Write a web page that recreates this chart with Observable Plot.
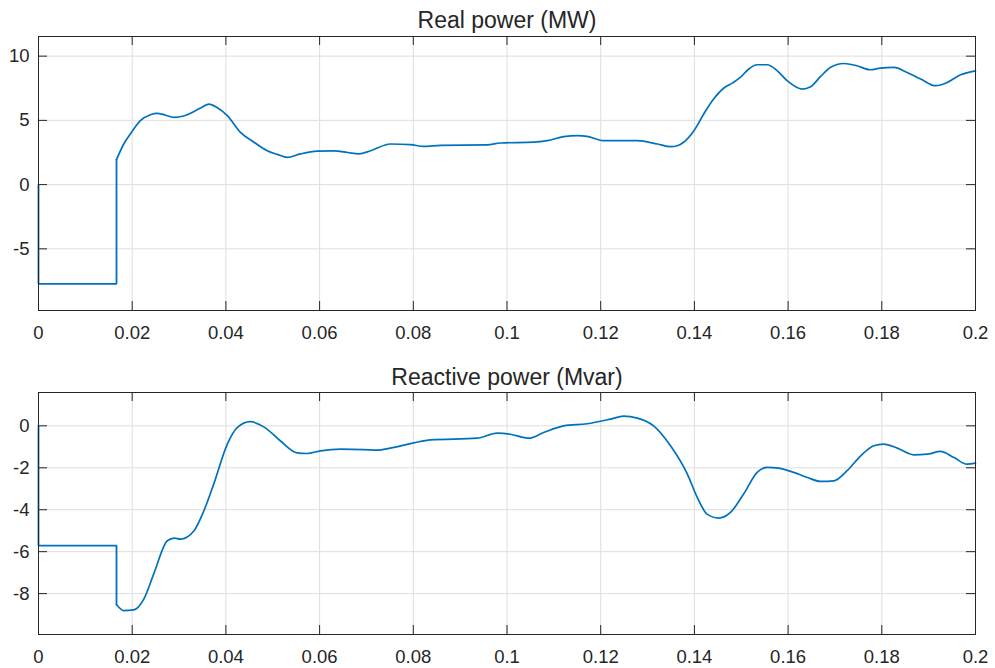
<!DOCTYPE html>
<html>
<head>
<meta charset="utf-8">
<script src="https://cdn.jsdelivr.net/npm/d3@7"></script>
<script src="https://cdn.jsdelivr.net/npm/@observablehq/plot@0.6"></script>
<style>
  html, body { margin: 0; padding: 0; background: #fff; }
  #chart svg { display: block; }
</style>
</head>
<body>
<div id="chart"></div>
<script>
// ---- data ----
const realTitle = "Real power (MW)";
const reactiveTitle = "Reactive power (Mvar)";

const timeTicks = [0, 0.02, 0.04, 0.06, 0.08, 0.1, 0.12, 0.14, 0.16, 0.18, 0.2];
const timeTickLabels = ["0", "0.02", "0.04", "0.06", "0.08", "0.1", "0.12", "0.14", "0.16", "0.18", "0.2"];
const realTicks = [-5, 0, 5, 10];
const reactiveTicks = [-8, -6, -4, -2, 0];

// the first four samples are the initial step (t = 0 and the switching instant)
const realTime = [0, 0, 0.01665, 0.01665, 0.0182, 0.0196, 0.0218, 0.0239, 0.0253, 0.027, 0.0289, 0.031, 0.0332, 0.035, 0.0364, 0.0381, 0.0403, 0.0431, 0.046, 0.0488, 0.051, 0.0531, 0.0559, 0.0595, 0.063, 0.066, 0.0684, 0.0709, 0.0751, 0.0794, 0.0822, 0.0858, 0.0958, 0.0986, 0.1057, 0.1086, 0.1121, 0.115, 0.1171, 0.1207, 0.1278, 0.1321, 0.1349, 0.1365, 0.1377, 0.1399, 0.142, 0.1441, 0.1463, 0.1481, 0.1498, 0.1516, 0.1534, 0.1555, 0.1577, 0.1598, 0.163, 0.1648, 0.1669, 0.169, 0.1719, 0.1747, 0.1776, 0.1797, 0.1826, 0.1854, 0.1883, 0.1915, 0.194, 0.1968, 0.2];
const realValue = [0, -7.72, -7.72, 1.94, 3.16, 3.94, 5.0, 5.44, 5.55, 5.42, 5.23, 5.34, 5.7, 6.05, 6.27, 6.0, 5.37, 4.07, 3.3, 2.64, 2.35, 2.12, 2.39, 2.6, 2.62, 2.5, 2.39, 2.64, 3.16, 3.11, 2.98, 3.06, 3.09, 3.24, 3.3, 3.42, 3.73, 3.81, 3.76, 3.42, 3.42, 3.16, 2.95, 3.05, 3.3, 4.2, 5.5, 6.66, 7.52, 7.9, 8.34, 9.0, 9.33, 9.33, 8.86, 8.09, 7.44, 7.62, 8.4, 9.12, 9.43, 9.25, 8.94, 9.07, 9.12, 8.73, 8.22, 7.7, 7.96, 8.55, 8.86];

const reactiveTime = [0, 0, 0.01665, 0.01665, 0.0182, 0.0203, 0.0225, 0.0246, 0.0275, 0.029, 0.0303, 0.0332, 0.0353, 0.0374, 0.0403, 0.0424, 0.0452, 0.0481, 0.0516, 0.0552, 0.0573, 0.0602, 0.0645, 0.0694, 0.0723, 0.0751, 0.0801, 0.0837, 0.0936, 0.0979, 0.1007, 0.1047, 0.1078, 0.1121, 0.1171, 0.1221, 0.1249, 0.1278, 0.1313, 0.1349, 0.1385, 0.1406, 0.1427, 0.1452, 0.1477, 0.1505, 0.1534, 0.1555, 0.158, 0.1612, 0.1641, 0.1669, 0.1698, 0.1726, 0.1755, 0.1783, 0.1804, 0.1833, 0.1868, 0.1897, 0.1925, 0.1954, 0.1982, 0.2];
const reactiveValue = [0, -5.71, -5.71, -8.52, -8.81, -8.78, -8.25, -7.06, -5.48, -5.35, -5.4, -5.0, -4.05, -2.78, -0.87, -0.08, 0.2, -0.05, -0.71, -1.29, -1.32, -1.19, -1.11, -1.13, -1.16, -1.06, -0.81, -0.67, -0.59, -0.35, -0.4, -0.59, -0.32, 0.0, 0.1, 0.32, 0.46, 0.37, 0.0, -0.95, -2.3, -3.41, -4.21, -4.4, -4.13, -3.25, -2.22, -1.98, -2.02, -2.22, -2.46, -2.65, -2.62, -2.14, -1.43, -0.95, -0.87, -1.06, -1.38, -1.35, -1.22, -1.51, -1.83, -1.78];

// ---- styling ----
const FONT = "'Liberation Sans', Arial, Helvetica, sans-serif";
const INK = "#262626";
const LINE = "#0072BD";
const GRID = "#dedede";
const TICK_LEN = 9;
const W = 995;
const ML = 38, MR = 20;
const STEP_END = 4; // samples belonging to the step segment (drawn straight)

function panel({title, time, value, yDomain, yTicks, height, marginTop, marginBottom, titleDy}) {
  const rows = time.map((t, i) => ({t, v: value[i]}));
  const stepRows = rows.slice(0, STEP_END);
  const smoothRows = rows.slice(STEP_END - 1);
  const frameW = W - ML - MR;
  const frameH = height - marginTop - marginBottom;
  const labelOf = t => timeTickLabels[timeTicks.indexOf(t)];
  return Plot.plot({
    width: W,
    height,
    marginLeft: ML,
    marginRight: MR,
    marginTop,
    marginBottom,
    style: {fontFamily: FONT, fontSize: "18.5px", color: INK, background: "#fff", overflow: "visible"},
    x: {domain: [0, 0.2], ticks: timeTicks, tickFormat: labelOf, label: null},
    y: {domain: yDomain, ticks: yTicks, tickFormat: d => String(d), label: null},
    marks: [
      Plot.ruleX(timeTicks, {stroke: GRID, strokeWidth: 1}),
      Plot.ruleY(yTicks, {stroke: GRID, strokeWidth: 1}),
      Plot.axisX(timeTicks, {tickSize: 0, tickPadding: 15, tickFormat: labelOf, fill: INK, fontSize: 18.5}),
      Plot.axisY(yTicks, {tickSize: 0, tickPadding: 9, tickFormat: d => String(d), fill: INK, fontSize: 18.5}),
      // inward tick marks on all four sides (box on)
      Plot.ruleX(timeTicks, {stroke: INK, insetTop: frameH - TICK_LEN}),
      Plot.ruleX(timeTicks, {stroke: INK, insetBottom: frameH - TICK_LEN}),
      Plot.ruleY(yTicks, {stroke: INK, insetRight: frameW - TICK_LEN}),
      Plot.ruleY(yTicks, {stroke: INK, insetLeft: frameW - TICK_LEN}),
      Plot.line(stepRows, {x: "t", y: "v", stroke: LINE, strokeWidth: 1.8, strokeLinejoin: "miter"}),
      Plot.line(smoothRows, {x: "t", y: "v", stroke: LINE, strokeWidth: 1.7, curve: "monotone-x", strokeLinejoin: "round"}),
      Plot.frame({stroke: INK, strokeWidth: 1}),
      Plot.text([title], {frameAnchor: "top", dy: titleDy, text: d => d, fill: INK, fontSize: 23, lineAnchor: "middle"})
    ]
  });
}

const realPanel = panel({
  title: realTitle, time: realTime, value: realValue,
  yDomain: [-9.8, 11.53], yTicks: realTicks,
  height: 346, marginTop: 36, marginBottom: 36, titleDy: -16
});
const reactivePanel = panel({
  title: reactiveTitle, time: reactiveTime, value: reactiveValue,
  yDomain: [-9.95, 1.59], yTicks: reactiveTicks,
  height: 322, marginTop: 46, marginBottom: 34, titleDy: -15
});
const chartEl = document.getElementById("chart");
chartEl.appendChild(realPanel);
chartEl.appendChild(reactivePanel);
</script>
</body>
</html>
